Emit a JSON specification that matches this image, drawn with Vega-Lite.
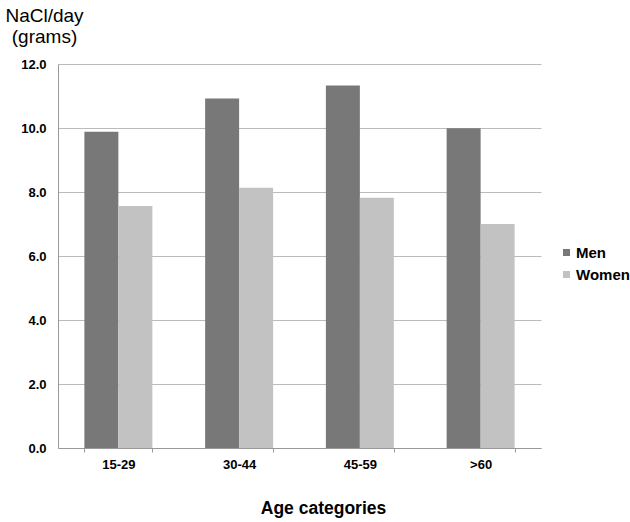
{
  "$schema": "https://vega.github.io/schema/vega-lite/v6.json",
  "autosize": {"type": "none"},
  "width": 483,
  "height": 384,
  "padding": {"left": 58, "top": 64, "right": 89, "bottom": 74},
  "background": "white",
  "data": {
    "values": [
      {"age": "15-29", "sex": "Men", "nacl": 9.88},
      {"age": "15-29", "sex": "Women", "nacl": 7.56},
      {"age": "30-44", "sex": "Men", "nacl": 10.92},
      {"age": "30-44", "sex": "Women", "nacl": 8.13},
      {"age": "45-59", "sex": "Men", "nacl": 11.33},
      {"age": "45-59", "sex": "Women", "nacl": 7.82},
      {"age": ">60", "sex": "Men", "nacl": 9.99},
      {"age": ">60", "sex": "Women", "nacl": 7.0}
    ]
  },
  "mark": {"type": "bar"},
  "encoding": {
    "x": {
      "field": "age",
      "type": "nominal",
      "sort": ["15-29", "30-44", "45-59", ">60"],
      "scale": {"paddingInner": 0.437, "paddingOuter": 0.2185},
      "axis": {
        "title": "Age categories",
        "titleFont": "Liberation Sans",
        "titleFontSize": 17.5,
        "titleFontWeight": "bold",
        "titleColor": "#000000",
        "titleAlign": "center",
        "titleBaseline": "alphabetic",
        "titleX": 265,
        "titleY": 65,
        "labelAngle": 0,
        "labelFont": "Liberation Sans",
        "labelFontSize": 13,
        "labelFontWeight": "bold",
        "labelColor": "#000000",
        "labelPadding": 6,
        "tickBand": "extent",
        "tickSize": 4,
        "tickColor": "#999999",
        "domainColor": "#999999",
        "grid": false
      }
    },
    "xOffset": {"field": "sex", "type": "nominal", "sort": ["Men", "Women"], "scale": {"paddingInner": 0, "paddingOuter": 0}},
    "y": {
      "field": "nacl",
      "type": "quantitative",
      "scale": {"domain": [0, 12], "nice": false},
      "axis": {
        "values": [0, 2, 4, 6, 8, 10, 12],
        "format": ".1f",
        "title": ["NaCl/day", "(grams)"],
        "titleAngle": 0,
        "titleAlign": "center",
        "titleBaseline": "alphabetic",
        "titleX": -14,
        "titleY": -43,
        "titleLineHeight": 21,
        "titleFont": "Liberation Sans",
        "titleFontSize": 19,
        "titleFontWeight": "normal",
        "titleColor": "#000000",
        "labelFont": "Liberation Sans",
        "labelFontSize": 13,
        "labelFontWeight": "bold",
        "labelColor": "#000000",
        "labelPadding": 12,
        "ticks": false,
        "domainColor": "#999999",
        "gridColor": "#bbbbbb"
      }
    },
    "color": {
      "field": "sex",
      "type": "nominal",
      "sort": ["Men", "Women"],
      "scale": {"domain": ["Men", "Women"], "range": ["#787878", "#c2c2c2"]},
      "legend": {
        "title": null,
        "orient": "none",
        "legendX": 501,
        "legendY": 181,
        "padding": 0,
        "symbolType": "square",
        "symbolSize": 49,
        "symbolStrokeWidth": 0,
        "labelFont": "Liberation Sans",
        "labelFontSize": 15,
        "labelFontWeight": "bold",
        "labelColor": "#000000",
        "labelOffset": 2,
        "rowPadding": 6
      }
    }
  },
  "config": {
    "view": {"stroke": null}
  }
}
